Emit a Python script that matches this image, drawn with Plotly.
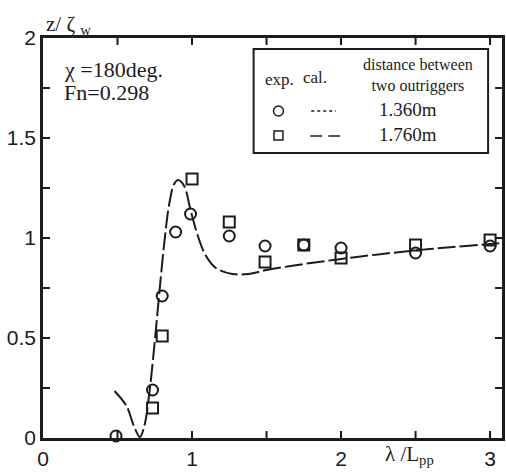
import plotly.graph_objects as go

# experimental data, distance 1.360 m (circles)
exp1_x = [0.49, 0.735, 0.80, 0.89, 0.99, 1.25, 1.49, 1.75, 2.0, 2.5, 3.0]
exp1_y = [0.01, 0.24, 0.71, 1.03, 1.12, 1.01, 0.96, 0.965, 0.95, 0.925, 0.96]
# experimental data, distance 1.760 m (squares)
exp2_x = [0.735, 0.80, 1.0, 1.25, 1.49, 1.75, 2.0, 2.5, 3.0]
exp2_y = [0.15, 0.51, 1.295, 1.08, 0.88, 0.965, 0.90, 0.965, 0.99]
# calculation (dashed)
cal_x = [0.48, 0.56, 0.61, 0.65, 0.68, 0.713, 0.747, 0.78, 0.813, 0.847, 0.88, 0.907,
         0.947, 0.99, 1.035, 1.09, 1.16, 1.27, 1.38, 1.5, 1.75, 2.0, 2.25, 2.5, 2.75, 3.0, 3.08]
cal_y = [0.235, 0.16, 0.06, 0.005, 0.06, 0.22, 0.46, 0.72, 0.97, 1.17, 1.27, 1.29,
         1.26, 1.14, 1.02, 0.915, 0.85, 0.82, 0.82, 0.84, 0.87, 0.895, 0.918, 0.938, 0.955, 0.97, 0.975]

# tick positions (axis decoration)
x_ticks = [0.5, 1, 1.5, 2, 2.5, 3]
y_ticks = [0.25, 0.5, 0.75, 1, 1.25, 1.5, 1.75]

x_range = [0, 3.08]
y_range = [0, 2]

INK = "#1c1c1c"
SERIF = "Liberation Serif"
SANS = "Liberation Sans"

fig = go.Figure()
fig.add_trace(go.Scatter(x=cal_x, y=cal_y, mode="lines", line=dict(color=INK, width=2, dash="18px,4px"),
                         line_shape="spline", showlegend=False))
fig.add_trace(go.Scatter(x=exp1_x, y=exp1_y, mode="markers",
                         marker=dict(symbol="circle-open", size=11, color=INK, line=dict(width=2, color=INK)),
                         showlegend=False, cliponaxis=False))
fig.add_trace(go.Scatter(x=exp2_x, y=exp2_y, mode="markers",
                         marker=dict(symbol="square-open", size=11, color=INK, line=dict(width=2, color=INK)),
                         showlegend=False, cliponaxis=False))

W, H = 506, 472
L, R, T, B = 43, 1, 38, 34
pw, ph = W - L - R, H - T - B


def px(xp):
    return (xp - L) / pw


def py(yp):
    return (H - B - yp) / ph


fig.update_layout(
    width=W, height=H, margin=dict(l=L, r=R, t=T, b=B),
    paper_bgcolor="white", plot_bgcolor="white",
    xaxis=dict(range=x_range, showline=True, linewidth=2.5, linecolor=INK, mirror="ticks",
               ticks="inside", ticklen=7, tickwidth=2, tickcolor=INK, dtick=1, tick0=0,
               showgrid=False, zeroline=False,
               tickfont=dict(family=SANS, size=21, color=INK)),
    yaxis=dict(range=y_range, showline=True, linewidth=2.5, linecolor=INK, mirror="ticks",
               ticks="inside", ticklen=7, tickwidth=2, tickcolor=INK, dtick=0.5, tick0=0,
               showgrid=False, zeroline=False,
               tickfont=dict(family=SANS, size=21, color=INK)),
)

ann = []
ann.append(dict(text="z/ ζ <sub>w</sub>", x=px(44), y=py(25), xanchor="left", yanchor="middle",
                font=dict(family=SERIF, size=21, color=INK)))
ann.append(dict(text="χ =180deg.", x=px(62), y=py(70), xanchor="left", yanchor="middle",
                font=dict(family=SERIF, size=22, color=INK)))
ann.append(dict(text="Fn=0.298", x=px(62), y=py(93), xanchor="left", yanchor="middle",
                font=dict(family=SERIF, size=22, color=INK)))
ann.append(dict(text="λ /L<sub>pp</sub>", x=px(412), y=py(455), xanchor="center", yanchor="middle",
                font=dict(family=SERIF, size=21, color=INK)))
# legend texts
ann.append(dict(text="exp.", x=px(281), y=py(79), xanchor="center", yanchor="middle",
                font=dict(family=SERIF, size=17, color=INK)))
ann.append(dict(text="cal.", x=px(317), y=py(77), xanchor="center", yanchor="middle",
                font=dict(family=SERIF, size=17, color=INK)))
ann.append(dict(text="distance between<br>two outriggers", x=px(420), y=py(76), xanchor="center",
                yanchor="middle", font=dict(family=SERIF, size=16, color=INK)))
ann.append(dict(text="1.360m", x=px(410), y=py(109), xanchor="center", yanchor="middle",
                font=dict(family=SERIF, size=19, color=INK)))
ann.append(dict(text="1.760m", x=px(410), y=py(134), xanchor="center", yanchor="middle",
                font=dict(family=SERIF, size=19, color=INK)))
for a in ann:
    a.update(xref="paper", yref="paper", showarrow=False)
fig.update_layout(annotations=ann)

shapes = [
    dict(type="rect", x0=px(255), x1=px(491), y0=py(153), y1=py(49), line=dict(color=INK, width=2),
         fillcolor="white", layer="above", xref="paper", yref="paper"),
    dict(type="circle", x0=px(275), x1=px(285), y0=py(116), y1=py(106), line=dict(color=INK, width=1.5),
         xref="paper", yref="paper"),
    dict(type="rect", x0=px(275.5), x1=px(284.5), y0=py(140), y1=py(131), line=dict(color=INK, width=1.5),
         xref="paper", yref="paper"),
    dict(type="line", x0=px(313), x1=px(338), y0=py(111), y1=py(111), line=dict(color=INK, width=1.5, dash="dot"),
         xref="paper", yref="paper"),
    dict(type="line", x0=px(312), x1=px(342), y0=py(136), y1=py(136),
         line=dict(color=INK, width=1.5, dash="12px,6px"), xref="paper", yref="paper"),
]
# inside tick marks on all four sides, built from the tick lists
TL = 7
for v in x_ticks:
    shapes.append(dict(type="line", xref="x", yref="paper", x0=v, x1=v, y0=0, y1=TL / ph,
                       line=dict(color=INK, width=2)))
    shapes.append(dict(type="line", xref="x", yref="paper", x0=v, x1=v, y0=1 - TL / ph, y1=1,
                       line=dict(color=INK, width=2)))
for v in y_ticks:
    shapes.append(dict(type="line", xref="paper", yref="y", x0=0, x1=TL / pw, y0=v, y1=v,
                       line=dict(color=INK, width=2)))
    shapes.append(dict(type="line", xref="paper", yref="y", x0=1 - TL / pw, x1=1, y0=v, y1=v,
                       line=dict(color=INK, width=2)))
fig.update_layout(shapes=shapes)

fig.write_html("out.html")
